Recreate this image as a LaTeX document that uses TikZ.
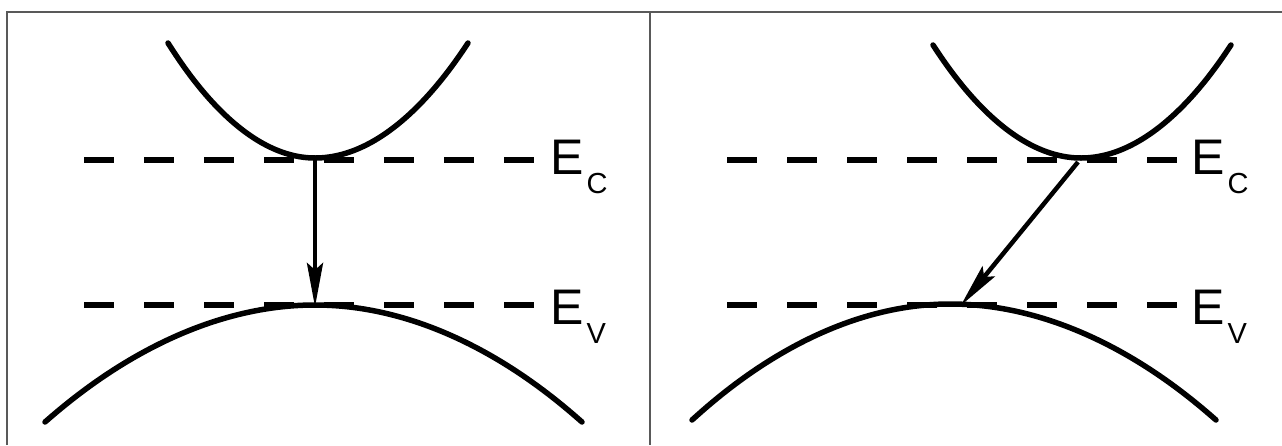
\documentclass[tikz,border=0pt]{standalone}
\usepackage{fontspec}
\setmainfont{Liberation Sans}
\usetikzlibrary{arrows.meta}
\tikzset{
  frameline/.style={draw=black!65, line width=1.3pt},
  band/.style={line width=5.5pt, line cap=round},
  level/.style={line width=6pt, dash pattern=on 30pt off 30pt},
  trans/.style={line width=4.5pt, -{Stealth[length=44pt,width=16pt,inset=7pt]}, shorten >=-2pt},
  elabel/.style={anchor=base west, inner sep=0pt, font=\fontsize{50}{50}\selectfont}
}
\newcommand{\lbl}[1]{E\hspace{3pt}\raisebox{-19pt}{\fontsize{29}{29}\selectfont #1}}
\begin{document}
\begin{tikzpicture}[x=1pt,y=-1pt]
\useasboundingbox (0,0) rectangle (1282,445);
\fill[white] (0,0) rectangle (1282,445);
% frame
\coordinate (ftl) at (7,12);
\coordinate (ftr) at (1282,12);
\coordinate (fbl) at (7,445);
\coordinate (fmt) at (650,12);
\coordinate (fmb) at (650,445);
\draw[frameline] (fbl) -- (ftl) -- (ftr);
\draw[frameline] (fmt) -- (fmb);

% ---------- left panel ----------
\coordinate (cL1) at (168,43);
\coordinate (cminL) at (315,158);
\coordinate (cL2) at (468,43);
\coordinate (vL1) at (45,422);
\coordinate (vmaxL) at (315,305);
\coordinate (vL2) at (582,422);
\coordinate (ecLa) at (84,160);
\coordinate (ecLb) at (540,160);
\coordinate (evLa) at (84,305);
\coordinate (evLb) at (540,305);
\draw[level] (ecLa) -- (ecLb);
\draw[level] (evLa) -- (evLb);
\draw[band] (cL1) parabola bend (cminL) (cL2);
\draw[band] (vL1) parabola bend (vmaxL) (vL2);
\coordinate (aL1) at (315,160);
\draw[trans] (aL1) -- (vmaxL);
\node[elabel] (ecLlab) at (550,174) {\lbl{C}};
\node[elabel] (evLlab) at (550,324) {\lbl{V}};

% ---------- right panel ----------
\coordinate (cR1) at (933,45);
\coordinate (cminR) at (1081,158);
\coordinate (cR2) at (1231,45);
\coordinate (vR1) at (692,420);
\coordinate (vmaxR) at (950,304);
\coordinate (vR2) at (1216,420);
\coordinate (ecRa) at (727,160);
\coordinate (ecRb) at (1180,160);
\coordinate (evRa) at (727,305);
\coordinate (evRb) at (1180,305);
\draw[level] (ecRa) -- (ecRb);
\draw[level] (evRa) -- (evRb);
\draw[band] (cR1) parabola bend (cminR) (cR2);
\draw[band] (vR1) parabola bend (vmaxR) (vR2);
\coordinate (aR1) at (1078,162);
\coordinate (aR2) at (962,304);
\draw[trans] (aR1) -- (aR2);
\node[elabel] (ecRlab) at (1191,174) {\lbl{C}};
\node[elabel] (evRlab) at (1191,324) {\lbl{V}};
\end{tikzpicture}
\end{document}
